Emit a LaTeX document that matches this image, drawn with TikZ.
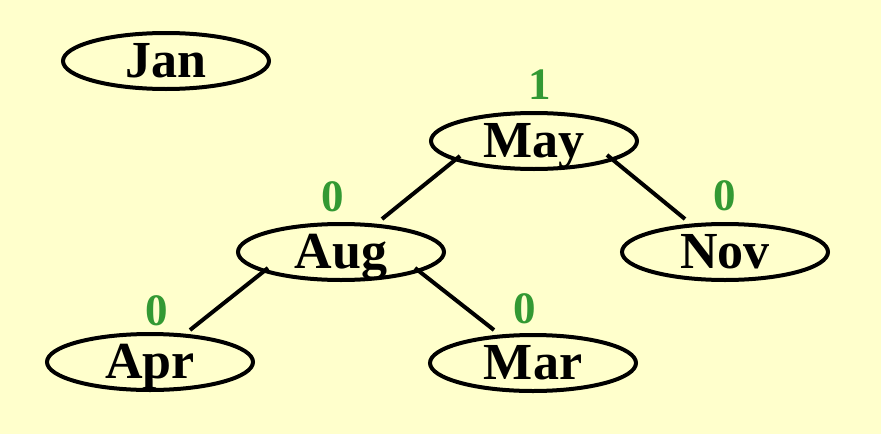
\documentclass[tikz,border=0pt]{standalone}
\usepackage{fontspec}
\setmainfont{Liberation Serif}
\usetikzlibrary{shapes.geometric,calc}
\definecolor{bgyellow}{HTML}{FFFFCC}
\definecolor{balgreen}{HTML}{339933}
\begin{document}
\begin{tikzpicture}[x=1pt,y=-1pt,
  month/.style={ellipse,draw=black,line width=4pt,minimum width=206pt,minimum height=56pt,inner sep=0pt,
    text height=32pt,text depth=0pt,
    font=\fontsize{52}{52}\selectfont\bfseries},
  bal/.style={text=balgreen,inner sep=0pt,font=\fontsize{45}{45}\selectfont\bfseries},
  edge/.style={line width=4pt}]
\fill[bgyellow] (0,0) rectangle (881,434);
\useasboundingbox (0,0) rectangle (881,434);
\node[month] (jan) at (166,61) {Jan};
\node[month] (may) at (534,141) {May};
\node[month] (aug) at (341,252) {Aug};
\node[month] (nov) at (725,252) {Nov};
\node[month] (apr) at (150,362) {Apr};
\node[month] (mar) at (533,363) {Mar};
\node[bal] (bmay) at (540,85) {1};
\node[bal] (baug) at (333,197) {0};
\node[bal] (bnov) at (725,196) {0};
\node[bal] (bapr) at (157,311) {0};
\node[bal] (bmar) at (525,309) {0};
\coordinate (mayL) at ($(may.center)+(-74,15)$);
\coordinate (mayR) at ($(may.center)+(73,14)$);
\coordinate (augL) at ($(aug.center)+(-73,16)$);
\coordinate (augR) at ($(aug.center)+(74,16)$);
\coordinate (augT) at ($(aug.center)+(41,-33)$);
\coordinate (novT) at ($(nov.center)+(-40,-33)$);
\coordinate (aprT) at ($(apr.center)+(40,-32)$);
\coordinate (marT) at ($(mar.center)+(-39,-33)$);
\draw[edge] (mayL) -- (augT);
\draw[edge] (mayR) -- (novT);
\draw[edge] (augL) -- (aprT);
\draw[edge] (augR) -- (marT);
\end{tikzpicture}
\end{document}
